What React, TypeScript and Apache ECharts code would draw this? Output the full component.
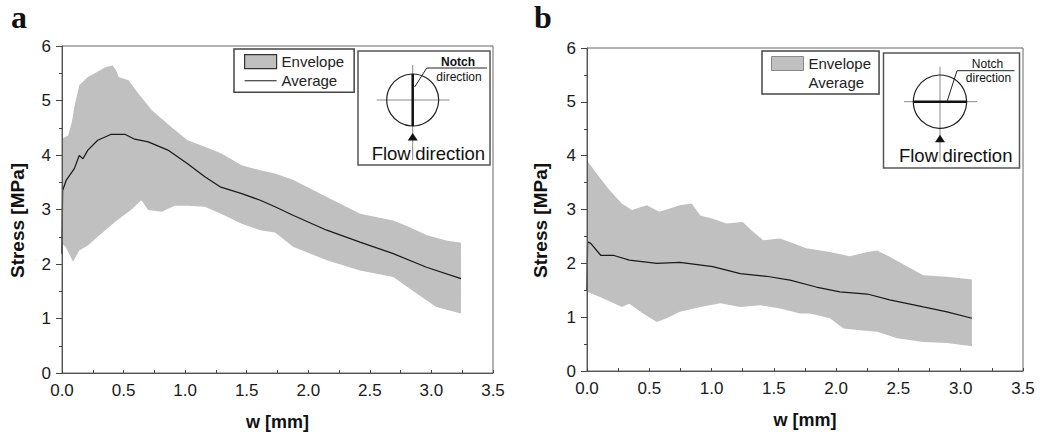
import React, { useEffect, useRef } from "react";
import * as echarts from "echarts";

// ---------- data ----------
const leftUpper: [number, number][] = [
  [0, 4.3], [0.05, 4.36], [0.08, 4.6], [0.1, 4.88], [0.14, 5.28], [0.21, 5.43], [0.28, 5.52],
  [0.35, 5.61], [0.41, 5.64], [0.44, 5.55], [0.46, 5.43], [0.54, 5.37], [0.62, 5.13], [0.73, 4.82],
  [0.89, 4.51], [1.02, 4.27], [1.16, 4.15], [1.29, 4.03], [1.46, 3.81], [1.61, 3.72], [1.73, 3.66],
  [1.88, 3.54], [2.15, 3.23], [2.42, 2.92], [2.69, 2.8], [2.82, 2.68], [2.96, 2.53], [3.12, 2.43],
  [3.24, 2.39],
];
const leftLower: [number, number][] = [
  [0, 2.37], [0.03, 2.31], [0.09, 2.04], [0.14, 2.25], [0.21, 2.34], [0.29, 2.5], [0.43, 2.77],
  [0.56, 2.99], [0.645, 3.17], [0.7, 2.99], [0.81, 2.96], [0.915, 3.07], [1.02, 3.07], [1.16, 3.05],
  [1.29, 2.92], [1.46, 2.74], [1.61, 2.62], [1.73, 2.58], [1.88, 2.31], [2.15, 2.07], [2.42, 1.88],
  [2.69, 1.76], [2.88, 1.46], [3.04, 1.21], [3.24, 1.09],
];
const leftAverage: [number, number][] = [
  [0, 2.19], [0.005, 3.35], [0.035, 3.54], [0.1, 3.75], [0.14, 3.99], [0.17, 3.93], [0.21, 4.09],
  [0.29, 4.27], [0.4, 4.38], [0.51, 4.38], [0.59, 4.29], [0.7, 4.24], [0.86, 4.09], [1.02, 3.84],
  [1.16, 3.6], [1.29, 3.41], [1.46, 3.29], [1.61, 3.17], [1.73, 3.05], [1.88, 2.89], [2.15, 2.62],
  [2.42, 2.4], [2.69, 2.19], [2.96, 1.94], [3.24, 1.73],
];
const rightUpper: [number, number][] = [
  [0, 3.91], [0.1, 3.6], [0.18, 3.36], [0.28, 3.11], [0.36, 2.99], [0.48, 3.08], [0.58, 2.96],
  [0.665, 3.02], [0.745, 3.08], [0.84, 3.11], [0.91, 2.89], [1.01, 2.83], [1.12, 2.74], [1.25, 2.77],
  [1.335, 2.58], [1.415, 2.43], [1.55, 2.46], [1.66, 2.37], [1.76, 2.28], [1.95, 2.21], [2.11, 2.13],
  [2.25, 2.21], [2.33, 2.24], [2.43, 2.12], [2.57, 1.94], [2.7, 1.78], [2.89, 1.75], [3.09, 1.7],
];
const rightLower: [number, number][] = [
  [0, 1.47], [0.1, 1.38], [0.28, 1.19], [0.34, 1.25], [0.45, 1.07], [0.56, 0.91], [0.64, 0.98],
  [0.745, 1.1], [0.91, 1.19], [1.07, 1.26], [1.23, 1.19], [1.39, 1.22], [1.55, 1.16], [1.71, 1.07],
  [1.79, 1.07], [1.95, 0.98], [2.06, 0.79], [2.17, 0.76], [2.33, 0.73], [2.49, 0.61], [2.7, 0.54],
  [2.89, 0.52], [3.09, 0.46],
];
const rightAverage: [number, number][] = [
  [0, 1.5], [0.005, 2.4], [0.03, 2.37], [0.11, 2.15], [0.21, 2.15], [0.34, 2.06], [0.56, 2.0],
  [0.745, 2.02], [1.01, 1.94], [1.23, 1.81], [1.44, 1.76], [1.63, 1.69], [1.84, 1.56], [2.03, 1.47],
  [2.25, 1.43], [2.43, 1.32], [2.7, 1.19], [2.89, 1.1], [3.09, 0.98],
];

const xMin = 0, xMax = 3.5, xStep = 0.5;
const yMin = 0, yMax = 6, yStep = 1;
const panelLabels = ["a", "b"];
const xTitle = "w [mm]";
const yTitle = "Stress [MPa]";

const FONT = '"Liberation Sans", Arial, sans-serif';
const ENV = "#c0c0c0";
const INK = "#1a1a1a";

function envelopeSeries(idx: number, upper: [number, number][], lower: [number, number][]) {
  return {
    type: "custom",
    name: "Envelope",
    xAxisIndex: idx,
    yAxisIndex: idx,
    data: [[upper[0][0], upper[0][1]]],
    itemStyle: { color: ENV },
    z: 1,
    silent: true,
    renderItem: (_p: any, api: any) => {
      const pts: number[][] = [];
      upper.forEach((d) => pts.push(api.coord(d)));
      for (let i = lower.length - 1; i >= 0; i--) pts.push(api.coord(lower[i]));
      return { type: "polygon", shape: { points: pts }, style: { fill: ENV, stroke: null } };
    },
  };
}

function avgSeries(idx: number, data: [number, number][]) {
  return {
    type: "line",
    name: "Average",
    xAxisIndex: idx,
    yAxisIndex: idx,
    data,
    symbol: "none",
    showSymbol: false,
    lineStyle: { color: INK, width: 1.25 },
    itemStyle: { color: INK },
    z: 3,
    silent: true,
  };
}

function xAxis(idx: number) {
  return {
    type: "value",
    gridIndex: idx,
    min: xMin,
    max: xMax,
    interval: xStep,
    axisLine: { show: true, lineStyle: { color: "#555", width: 1 } },
    axisTick: { show: true, inside: true, length: 3, lineStyle: { color: "#444" } },
    minorTick: { show: true, splitNumber: 2, length: 3, lineStyle: { color: "#444" } },
    splitLine: { show: false },
    axisLabel: {
      formatter: (v: number) => v.toFixed(1),
      fontSize: 17,
      color: INK,
      margin: 9,
      fontFamily: FONT,
    },
    name: xTitle,
    nameLocation: "middle",
    nameGap: 40,
    nameTextStyle: { fontSize: 18, fontWeight: "bold", color: "#111", fontFamily: FONT },
    z: 5,
  };
}

function yAxis(idx: number, gap: number) {
  return {
    type: "value",
    gridIndex: idx,
    min: yMin,
    max: yMax,
    interval: yStep,
    axisLine: { show: true, lineStyle: { color: "#555", width: 1 } },
    axisTick: { show: true, inside: false, length: 6, lineStyle: { color: "#444" } },
    minorTick: { show: true, splitNumber: 2, length: 3, lineStyle: { color: "#444" } },
    splitLine: { show: false },
    axisLabel: { fontSize: 17, color: INK, margin: 11, fontFamily: FONT },
    name: yTitle,
    nameLocation: "middle",
    nameGap: gap,
    nameTextStyle: { fontSize: 19, fontWeight: "bold", color: "#111", fontFamily: FONT, padding: [0, 22, 0, 0] },
    z: 5,
  };
}

function inset(kind: "v" | "h", bx: number, by: number, bw: number, bh: number, cx: number, cy: number, r: number, notchBold: boolean) {
  const els: any[] = [];
  els.push({ type: "rect", shape: { x: bx, y: by, width: bw, height: bh }, style: { fill: "#fff", stroke: "#555", lineWidth: 1.5 }, z: 20 });
  els.push({ type: "line", shape: { x1: cx - 36, y1: cy, x2: cx + 37, y2: cy }, style: { stroke: "#8a8a8a", lineWidth: 1 }, z: 21 });
  els.push({ type: "line", shape: { x1: cx, y1: cy - 35, x2: cx, y2: cy + 60 }, style: { stroke: "#8a8a8a", lineWidth: 1 }, z: 21 });
  els.push({ type: "circle", shape: { cx, cy, r }, style: { fill: "none", stroke: "#222", lineWidth: 1.2 }, z: 22 });
  if (kind === "v") {
    els.push({ type: "line", shape: { x1: cx, y1: cy - r, x2: cx, y2: cy + r }, style: { stroke: "#111", lineWidth: 2.5 }, z: 23 });
    els.push({ type: "polyline", shape: { points: [[cx + 2, cy - 13], [cx + 14, cy - 32], [bx + bw - 3, cy - 32]] }, style: { stroke: "#222", lineWidth: 1, fill: "none" }, z: 23 });
  } else {
    els.push({ type: "line", shape: { x1: cx - r, y1: cy, x2: cx + r, y2: cy }, style: { stroke: "#111", lineWidth: 2.5 }, z: 23 });
    els.push({ type: "polyline", shape: { points: [[cx + 7, cy], [cx + 17, cy - 31], [bx + bw - 5, cy - 31]] }, style: { stroke: "#222", lineWidth: 1, fill: "none" }, z: 23 });
  }
  const notchX = bx + bw - 32;
  els.push({ type: "text", x: notchX, y: cy - 38, style: { text: "Notch", fontSize: 12, fontWeight: notchBold ? "bold" : "normal", fontFamily: FONT, fill: "#111", align: "center", verticalAlign: "middle" }, z: 24 });
  els.push({ type: "text", x: notchX + 1, y: cy - 23.5, style: { text: "direction", fontSize: 12, fontFamily: FONT, fill: "#111", align: "center", verticalAlign: "middle" }, z: 24 });
  els.push({ type: "polygon", shape: { points: [[cx, cy + 33], [cx - 5, cy + 40.5], [cx + 5, cy + 40.5]] }, style: { fill: "#111" }, z: 24 });
  els.push({ type: "text", x: cx - 2, y: cy + 53.5, style: { text: "Flow", fontSize: 18.5, fontFamily: FONT, fill: "#111", align: "right", verticalAlign: "middle" }, z: 24 });
  els.push({ type: "text", x: cx + 2.5, y: cy + 53.5, style: { text: "direction", fontSize: 18.5, fontFamily: FONT, fill: "#111", align: "left", verticalAlign: "middle" }, z: 24 });
  return els;
}

export default function App() {
  const ref = useRef<HTMLDivElement>(null);
  useEffect(() => {
    if (!ref.current) return;
    const chart = echarts.init(ref.current, undefined, { renderer: "svg" });
    const legendCommon = {
      orient: "vertical",
      itemWidth: 32,
      itemHeight: 14,
      itemGap: 4,
      borderColor: "#444",
      borderWidth: 1.5,
      backgroundColor: "#fff",
      selectedMode: false,
      textStyle: { fontSize: 15, fontFamily: FONT, color: "#222" },
      z: 20,
    };
    chart.setOption({
      animation: false,
      backgroundColor: "#fff",
      textStyle: { fontFamily: FONT },
      grid: [
        { left: 62, top: 46, width: 431, height: 327, show: true, borderColor: "#666", borderWidth: 1, backgroundColor: "transparent" },
        { left: 587, top: 48, width: 436, height: 323, show: true, borderColor: "#666", borderWidth: 1, backgroundColor: "transparent" },
      ],
      xAxis: [xAxis(0), xAxis(1)],
      yAxis: [yAxis(0, 35), yAxis(1, 37)],
      legend: [
        {
          ...legendCommon,
          left: 234,
          top: 49,
          padding: [5, 10, 4, 10],
          data: [
            { name: "Envelope", icon: "rect", itemStyle: { color: ENV, borderColor: "#333", borderWidth: 1.2 } },
            { name: "Average", icon: "path://M0,0h34v1.2h-34z", itemStyle: { color: INK, borderWidth: 0 } },
          ],
        },
        {
          ...legendCommon,
          left: 762,
          top: 51,
          padding: [5, 8, 4, 9],
          data: [
            { name: "Envelope", icon: "rect", itemStyle: { color: ENV, borderColor: "#888", borderWidth: 1 } },
            { name: "Average", icon: "none" },
          ],
        },
      ],
      series: [
        envelopeSeries(0, leftUpper, leftLower),
        avgSeries(0, leftAverage),
        envelopeSeries(1, rightUpper, rightLower),
        avgSeries(1, rightAverage),
      ],
      graphic: [
        { type: "text", x: 11, y: 33, style: { text: panelLabels[0], fontSize: 32, fontWeight: "bold", fontFamily: '"Liberation Serif", "Times New Roman", serif', fill: "#111", verticalAlign: "bottom" } },
        { type: "text", x: 534, y: 33, style: { text: panelLabels[1], fontSize: 32, fontWeight: "bold", fontFamily: '"Liberation Serif", "Times New Roman", serif', fill: "#111", verticalAlign: "bottom" } },
        ...inset("v", 358, 51, 132, 114, 412.7, 100, 26, true),
        ...inset("h", 883.5, 53, 136, 115, 940, 101.7, 26.7, false),
      ],
    });
    return () => chart.dispose();
  }, []);
  return <div ref={ref} style={{ position: "fixed", left: 0, top: 0, width: 1040, height: 439 }} />;
}
